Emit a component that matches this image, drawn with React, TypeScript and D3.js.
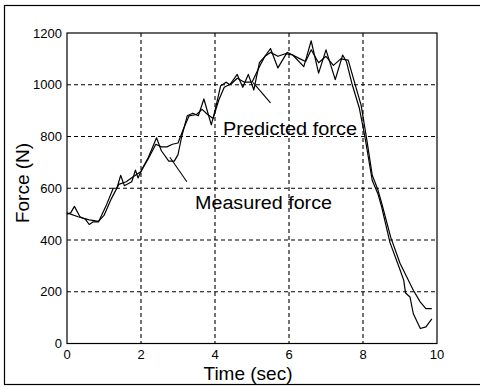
import React from "react";
import * as d3 from "d3";

const measuredT = [0, 0.1, 0.2, 0.35, 0.5, 0.6, 0.7, 0.85, 1.05, 1.25, 1.35, 1.45, 1.55, 1.75, 1.85, 1.92, 2.05, 2.2, 2.42, 2.55, 2.75, 2.9, 3.0, 3.1, 3.25, 3.4, 3.55, 3.7, 3.9, 4.0, 4.15, 4.3, 4.4, 4.6, 4.75, 4.9, 5.05, 5.2, 5.35, 5.5, 5.7, 5.95, 6.1, 6.4, 6.6, 6.8, 7.0, 7.25, 7.45, 7.55, 7.7, 7.9, 8.05, 8.25, 8.4, 8.5, 8.73, 9.0, 9.1, 9.15, 9.27, 9.36, 9.55, 9.7, 9.86];
const measuredF = [500, 505, 530, 490, 480, 460, 470, 470, 530, 600, 600, 650, 610, 625, 670, 640, 680, 720, 795, 745, 705, 705, 730, 800, 880, 890, 880, 945, 845, 900, 995, 1010, 1000, 1040, 990, 1040, 980, 1085, 1110, 1140, 1065, 1125, 1115, 1070, 1170, 1045, 1135, 1020, 1115, 1090, 1005, 910, 800, 630, 580, 530, 390, 285, 245, 195, 180, 115, 58, 64, 95];

const predictedT = [0, 0.3, 0.6, 0.85, 1.0, 1.2, 1.4, 1.6, 1.8, 2.0, 2.2, 2.4, 2.55, 2.7, 2.85, 3.0, 3.15, 3.3, 3.5, 3.65, 3.8, 3.95, 4.1, 4.25, 4.45, 4.6, 4.8, 5.0, 5.2, 5.35, 5.5, 5.7, 5.9, 6.1, 6.3, 6.45, 6.6, 6.8, 7.0, 7.2, 7.4, 7.6, 7.75, 7.95, 8.1, 8.25, 8.4, 8.5, 8.75, 9.0, 9.36, 9.55, 9.7, 9.86];
const predictedF = [505, 490, 478, 472, 495, 560, 615, 625, 645, 665, 715, 770, 760, 760, 770, 775, 830, 880, 885, 905, 885, 870, 940, 990, 1005, 1025, 1010, 1010, 1070, 1110, 1125, 1110, 1120, 1115, 1100, 1090, 1135, 1085, 1110, 1075, 1100, 1095, 1020, 920, 790, 650, 595, 545, 410, 310, 206, 160, 135, 135];

const xTicks = [0, 2, 4, 6, 8, 10];
const yTicks = [0, 200, 400, 600, 800, 1000, 1200];

// annotation pointers in data coords
const predictedPointer = [[5.03, 1008], [5.5, 930]];
const measuredPointer = [[2.78, 720], [3.24, 625]];

export default function App() {
  const W = 480, H = 389;
  const L = 67, R = 437, T = 33, B = 343.5;
  const x = d3.scaleLinear().domain([0, 10]).range([L, R]);
  const y = d3.scaleLinear().domain([0, 1200]).range([B, T]);
  const line = d3.line<[number, number]>().x(d => x(d[0])).y(d => y(d[1]));
  const meas = measuredT.map((t, i) => [t, measuredF[i]] as [number, number]);
  const pred = predictedT.map((t, i) => [t, predictedF[i]] as [number, number]);
  const font = "Liberation Sans, Arial, sans-serif";
  return (
    <svg width={W} height={H} style={{ position: "absolute", left: 0, top: 0, background: "#fff" }} fontFamily={font}>
      <rect x={0} y={0} width={W} height={H} fill="#fff" />
      {/* outer frame */}
      <rect x={4.5} y={5.5} width={490} height={379} fill="none" stroke="#000" strokeWidth={1.2} />
      {/* grid */}
      {xTicks.slice(1, -1).map(t => (
        <line key={"gx" + t} x1={x(t)} x2={x(t)} y1={T} y2={B} stroke="#000" strokeWidth={1.1} strokeDasharray="4,3" />
      ))}
      {yTicks.slice(1, -1).map(v => (
        <line key={"gy" + v} x1={L} x2={R} y1={y(v)} y2={y(v)} stroke="#000" strokeWidth={1.1} strokeDasharray="4,3" />
      ))}
      {/* box */}
      <rect x={L} y={T} width={R - L} height={B - T} fill="none" stroke="#000" strokeWidth={1.2} />
      {/* ticks labels */}
      {yTicks.map(v => (
        <text key={"ly" + v} x={L - 5} y={y(v) + 4.5} fontSize={13} textAnchor="end" fill="#000">{v}</text>
      ))}
      {xTicks.map(t => (
        <text key={"lx" + t} x={x(t)} y={B + 15} fontSize={13} textAnchor="middle" fill="#000">{t}</text>
      ))}
      {/* data */}
      <path d={line(pred) || ""} fill="none" stroke="#000" strokeWidth={1.2} strokeLinejoin="round" />
      <path d={line(meas) || ""} fill="none" stroke="#000" strokeWidth={1.2} strokeLinejoin="round" />
      {/* annotations */}
      <line x1={x(predictedPointer[0][0])} y1={y(predictedPointer[0][1])} x2={x(predictedPointer[1][0])} y2={y(predictedPointer[1][1])} stroke="#000" strokeWidth={1.1} />
      <line x1={x(measuredPointer[0][0])} y1={y(measuredPointer[0][1])} x2={x(measuredPointer[1][0])} y2={y(measuredPointer[1][1])} stroke="#000" strokeWidth={1.1} />
      <text x={223} y={135} fontSize={18} textLength={134} lengthAdjust="spacingAndGlyphs" fill="#000">Predicted force</text>
      <text x={195} y={208.5} fontSize={18} textLength={137} lengthAdjust="spacingAndGlyphs" fill="#000">Measured force</text>
      {/* axis titles */}
      <text x={248} y={379.5} fontSize={19} textAnchor="middle" fill="#000">Time (sec)</text>
      <text transform="translate(29,183) rotate(-90)" fontSize={19} textAnchor="middle" fill="#000">Force (N)</text>
    </svg>
  );
}
